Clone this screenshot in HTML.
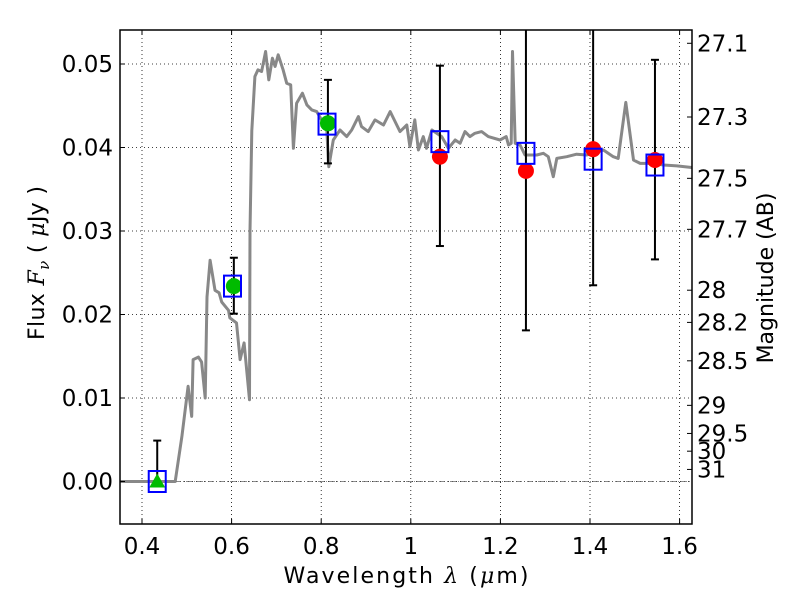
<!DOCTYPE html>
<html><head><meta charset="utf-8">
<style>
html,body{margin:0;padding:0;background:#fff;}
svg{display:block;font-family:"DejaVu Sans","Liberation Sans",sans-serif;}
</style></head>
<body>
<svg id="chart" width="800" height="600" viewBox="0 0 800 600" xmlns="http://www.w3.org/2000/svg">
<rect width="800" height="600" fill="#fff"/>
<g id="grid"></g>
<g id="spec"></g>
<g id="marks"></g>
<g id="axes"></g>
<text x="406" y="583" font-size="22" text-anchor="middle" textLength="245" lengthAdjust="spacing">Wavelength  <tspan font-style="italic" font-family="DejaVu Serif, serif">λ</tspan> (<tspan font-style="italic" font-family="DejaVu Serif, serif">μ</tspan>m)</text>
<text transform="translate(44,263) rotate(-90)" font-size="22" text-anchor="middle" textLength="154" lengthAdjust="spacing">Flux  <tspan font-style="italic" font-family="DejaVu Serif, serif">F</tspan><tspan font-style="italic" font-family="DejaVu Serif, serif" font-size="15" dy="5">ν</tspan><tspan dy="-5">  (  </tspan><tspan font-style="italic" font-family="DejaVu Serif, serif">μ</tspan>Jy )</text>
<text transform="translate(773,278) rotate(-90)" font-size="22" text-anchor="middle">Magnitude (AB)</text>
</svg>
<script>
const xTicks = [0.4,0.6,0.8,1.0,1.2,1.4,1.6];
const xTickLabels = ["0.4","0.6","0.8","1","1.2","1.4","1.6"];
const yTicks = [0.00,0.01,0.02,0.03,0.04,0.05];
const yTickLabels = ["0.00","0.01","0.02","0.03","0.04","0.05"];
const magTicks = [27.1,27.3,27.5,27.7,28,28.2,28.5,29,29.5,30,31];
const magTickLabels = ["27.1","27.3","27.5","27.7","28","28.2","28.5","29","29.5","30","31"];
const specLam = [0.351,0.474,0.489,0.503,0.511,0.514,0.526,0.533,0.541,0.545,0.552,0.563,0.572,0.578,0.593,0.596,0.611,0.619,0.628,0.640,0.641,0.645,0.652,0.659,0.667,0.676,0.683,0.691,0.697,0.704,0.715,0.723,0.732,0.738,0.745,0.758,0.768,0.779,0.790,0.801,0.812,0.817,0.827,0.842,0.857,0.868,0.883,0.890,0.905,0.920,0.939,0.954,0.965,0.976,0.991,0.998,1.009,1.017,1.028,1.035,1.047,1.069,1.084,1.099,1.110,1.121,1.132,1.143,1.158,1.173,1.199,1.213,1.218,1.224,1.227,1.233,1.244,1.255,1.281,1.296,1.307,1.318,1.326,1.348,1.370,1.393,1.430,1.452,1.463,1.480,1.497,1.512,1.540,1.564,1.594,1.627];
const specFlux = [0,0,0.0054,0.0114,0.0078,0.0146,0.0149,0.0143,0.0100,0.0221,0.0265,0.0229,0.0226,0.0215,0.0205,0.0196,0.0190,0.0146,0.0166,0.0098,0.0300,0.0420,0.0485,0.0493,0.0491,0.0515,0.0481,0.0507,0.0497,0.0511,0.0493,0.0477,0.0475,0.0399,0.0453,0.0465,0.0451,0.0445,0.0443,0.0433,0.0425,0.0377,0.0409,0.0421,0.0413,0.0421,0.0437,0.0425,0.0419,0.0433,0.0427,0.0443,0.0431,0.0419,0.0427,0.0401,0.0433,0.0397,0.0413,0.0399,0.0421,0.0413,0.0399,0.0409,0.0405,0.0419,0.0413,0.0417,0.0419,0.0413,0.0409,0.0413,0.0403,0.0405,0.0515,0.0405,0.0403,0.0391,0.0391,0.0393,0.0389,0.0365,0.0387,0.0389,0.0392,0.0391,0.0397,0.0389,0.0387,0.0454,0.0385,0.0381,0.0381,0.0379,0.0378,0.0376];
const modelLam = [0.434,0.602,0.813,1.065,1.257,1.407,1.545];
const modelFlux = [0.0000,0.0234,0.0428,0.0407,0.0393,0.0386,0.0379];
const obsLam = [0.434,0.605,0.815,1.065,1.257,1.407,1.545];
const obsFlux = [0.0000,0.0234,0.0429,0.0389,0.0372,0.0398,0.0385];
const obsLow = [0.0000,0.0201,0.0381,0.0282,0.0181,0.0235,0.0266];
const obsHigh = [0.0049,0.0268,0.0481,0.0498,0.0700,0.0700,0.0505];
const obsKind = ["upper","green","green","red","red","red","red"];

const L=120,R=692,T=30,B=524;
const xS = l => 142 + (l-0.4)*448;
const yS = f => 481.5 - f*8350;
const NS="http://www.w3.org/2000/svg";
function mk(tag, parent, attrs){const e=document.createElementNS(NS,tag);for(const k in attrs)e.setAttribute(k,attrs[k]);parent.appendChild(e);return e;}
const grid=document.getElementById('grid'),spec=document.getElementById('spec'),marks=document.getElementById('marks'),axes=document.getElementById('axes');

xTicks.forEach((t,i)=>{const x=xS(t);
 let g=mk('line',grid,{x1:x,x2:x,y1:T,y2:B,stroke:'#000','stroke-width':0.8,'stroke-dasharray':'1,3'});
 
 
 mk('line',axes,{x1:x,x2:x,y1:B,y2:B-5,stroke:'#000','stroke-width':1});
 mk('line',axes,{x1:x,x2:x,y1:T,y2:T+5,stroke:'#000','stroke-width':1});
 let tx=mk('text',axes,{x:x,y:B+30,'font-size':23,'text-anchor':'middle'});tx.textContent=xTickLabels[i];
 
 
});
yTicks.forEach((t,i)=>{const y=yS(t);
 let g=mk('line',grid,{x1:L,x2:R,y1:y,y2:y,stroke:'#000','stroke-width':0.8,'stroke-dasharray':'1,3'});
 
 
 mk('line',axes,{x1:L,x2:L+5,y1:y,y2:y,stroke:'#000','stroke-width':1});
 let tx=mk('text',axes,{x:113,y:y+8,'font-size':23,'text-anchor':'end'});tx.textContent=yTickLabels[i];
 
 
});
magTicks.forEach((m,i)=>{const y=yS(Math.pow(10,(23.9-m)/2.5));
 mk('line',axes,{x1:R,x2:R-5,y1:y,y2:y,stroke:'#000','stroke-width':1});
 let tx=mk('text',axes,{x:697,y:y+8,'font-size':23});tx.textContent=magTickLabels[i];
 
 
});
let zl=mk('line',grid,{x1:L,x2:R,y1:yS(0),y2:yS(0),stroke:'#666','stroke-width':0.8,'stroke-dasharray':'6,2,1,2'});



let d=specLam.map((l,i)=>(i?'L':'M')+xS(l).toFixed(1)+' '+yS(specFlux[i]).toFixed(1)).join(' ');
let p=mk('path',spec,{d:d,fill:'none',stroke:'#888','stroke-width':3,'stroke-linejoin':'round'});



obsLam.forEach((l,i)=>{const x=xS(l);const y1=Math.max(T,yS(obsHigh[i])),y2=yS(obsLow[i]);
 let e=mk('line',marks,{x1:x,x2:x,y1:y1,y2:y2,stroke:'#000','stroke-width':2});
 
 
 if(obsHigh[i]<0.054) mk('line',marks,{x1:x-4,x2:x+4,y1:y1,y2:y1,stroke:'#000','stroke-width':2});
 if(obsKind[i]!=='upper') mk('line',marks,{x1:x-4,x2:x+4,y1:y2,y2:y2,stroke:'#000','stroke-width':2});
});
obsLam.forEach((l,i)=>{const x=xS(l),y=yS(obsFlux[i]);let m;
 if(obsKind[i]==='upper'){m=mk('polygon',marks,{points:`${x},${y-8} ${x-8},${y+6} ${x+8},${y+6}`,fill:'#00bb00'});}
 else m=mk('circle',marks,{cx:x,cy:y,r:8,fill:obsKind[i]==='green'?'#00bb00':'#ff0000'});
 
 
});
modelLam.forEach((l,i)=>{const x=xS(l),y=yS(modelFlux[i]);
 let s=mk('rect',marks,{x:x-8.5,y:y-10.5,width:17,height:21,fill:'none',stroke:'#0000ff','stroke-width':2});
 
 
});
let fr=mk('rect',axes,{x:L,y:T,width:R-L,height:B-T,fill:'none',stroke:'#000','stroke-width':1.5});


</script>
</body></html>
